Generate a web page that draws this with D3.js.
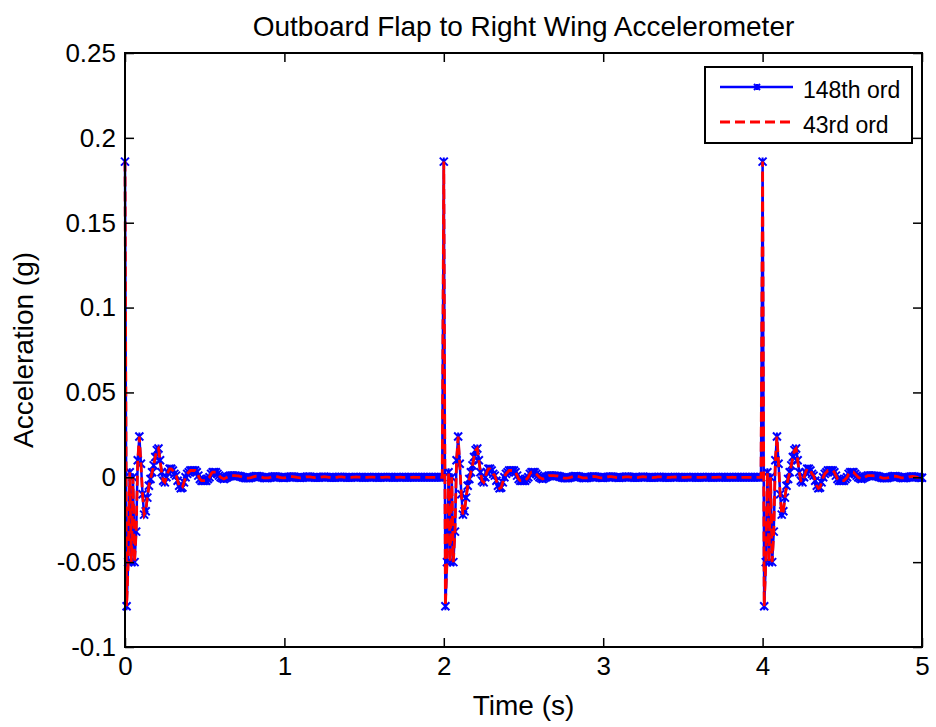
<!DOCTYPE html>
<meta charset="utf-8">
<script src="https://d3js.org/d3.v7.min.js"></script>
<style>
body { margin: 0; background: #fff; }
text { font-family: "Liberation Sans", Arial, sans-serif; fill: #000; }
.axis path { display: none; }
.axis line { stroke: #000; stroke-width: 1.5px; }
.axis text { font-size: 26px; font-family: "Liberation Sans", Arial, sans-serif; fill: #000; }
path.ord148 { fill: none; stroke: #0000ff; stroke-width: 2.5px; }
path.ord43 { fill: none; stroke: #ff0000; stroke-width: 2.8px; stroke-dasharray: 10,5; }
path.mark { fill: none; stroke: #0000ff; stroke-width: 2px; }
</style>
<body>
<script>

// sample spacing of both model outputs (s)
var timeStep = 0.01;
// the same input pulse is applied every 2 s
var pulseStarts = [0, 2, 4];
var endTime = 5;

// response to one pulse, 148th order model, one value per sample (2 s)
var ord148Pulse = [
  0.186, -0.076, -0.050, 0.003, -0.050, 0.000, -0.050, -0.032, 0.010, 0.024,
  0.008, -0.010, -0.022, -0.020, -0.012, -0.005, -0.001, 0.003, 0.007, 0.012,
  0.016, 0.017, 0.010, 0.003, -0.002, -0.003, 0.000, 0.003, 0.005, 0.005,
  0.004, 0.002, 0.001, -0.002, -0.005, -0.0065, -0.006, -0.003, 0.000, 0.002,
  0.003, 0.004, 0.004, 0.004, 0.004, 0.003, 0.001, -0.001, -0.002, -0.002,
  -0.002, -0.002, -0.001, 0.000, 0.002, 0.003, 0.003, 0.003, 0.002, 0.001,
  0.000, -0.0005, -0.001, -0.0005, 0.000, 0.0005, 0.001, 0.001, 0.001, 0.001,
  0.0008, 0.0008, 0.0006, 0.0003, 0.0000, -0.0003, -0.0005, -0.0005, -0.0004, -0.0002,
  0.0001, 0.0004, 0.0006, 0.0006, 0.0005, 0.0003, 0.0000, -0.0003, -0.0004, -0.0004,
  -0.0003, -0.0001, 0.0002, 0.0004, 0.0005, 0.0004, 0.0002, 0.0000, -0.0002, -0.0003,
  -0.0003, -0.0002, 0.0000, 0.0002, 0.0004, 0.0004, 0.0003, 0.0001, -0.0001, -0.0002,
  -0.0003, -0.0002, -0.0001, 0.0001, 0.0003, 0.0003, 0.0003, 0.0001, 0.0000, -0.0002,
  -0.0002, -0.0002, -0.0001, 0.0001, 0.0002, 0.0003, 0.0002, 0.0001, 0.0000, -0.0001,
  -0.0002, -0.0002, -0.0001, 0.0000, 0.0002, 0.0002, 0.0002, 0.0001, 0.0000, -0.0001,
  -0.0002, -0.0001, -0.0001, 0.0001, 0.0001, 0.0002, 0.0001, 0.0001, 0.0000, -0.0001,
  -0.0001, -0.0001, 0.0000, 0.0001, 0.0001, 0.0001, 0.0001, 0.0000, -0.0001, -0.0001,
  -0.0001, 0.0000, 0.0000, 0.0001, 0.0001, 0.0001, 0.0000, 0.0000, -0.0001, -0.0001,
  0.0000, 0.0000, 0.0001, 0.0001, 0.0000, 0.0000, 0.0000, -0.0001, 0.0000, 0.0000,
  0.0000, 0.0001, 0.0000, 0.0000, 0.0000, 0.0000, 0.0000, 0.0000, 0.0000, 0.0000,
  0.0000, 0.0000, 0.0000, 0.0000, 0.0000, 0.0000, 0.0000, 0.0000, 0.0000, 0.0000
];
// 43rd order reduced model: lies on top of the full one at this scale
var ord43Pulse = ord148Pulse;

var seriesNames = ["148th ord", "43rd ord"];

var xTicks = [0, 1, 2, 3, 4, 5];
var yTicks = [0.25, 0.2, 0.15, 0.1, 0.05, 0, -0.05, -0.1];
var yTickLabels = ["0.25", "0.2", "0.15", "0.1", "0.05", "0", "-0.05", "-0.1"];

var width = 936,
    height = 727;
var padLeft = 125, padTop = 53, plotW = 797, plotH = 594;

function buildSeries(pulse) {
  var pts = [];
  pulseStarts.forEach(function(p) {
    pulse.forEach(function(v, i) {
      var t = Math.round((p + i * timeStep) * 1000) / 1000;
      if (t <= endTime) pts.push({t: t, v: v});
    });
  });
  return pts;
}

var data148 = buildSeries(ord148Pulse),
    data43 = buildSeries(ord43Pulse);

var x = d3.scaleLinear().domain([0, 5]).range([0, plotW]);
var y = d3.scaleLinear().domain([-0.1, 0.25]).range([plotH, 0]);

var svg = d3.select("body").append("svg")
    .attr("width", width)
    .attr("height", height);

var g = svg.append("g")
    .attr("transform", "translate(" + padLeft + "," + padTop + ")");

var line = d3.line()
    .x(function(d) { return x(d.t); })
    .y(function(d) { return y(d.v); });

// asterisk-ish marker like matlab
var markX = {
  draw: function(context, size) {
    var r = Math.sqrt(size) / 2;
    context.moveTo(-r, -r); context.lineTo(r, r);
    context.moveTo(-r, r); context.lineTo(r, -r);
    context.moveTo(0, -r); context.lineTo(0, r);
  }
};
var marker = d3.symbol().type(markX).size(64);

// blue series with markers
g.append("path")
    .datum(data148)
    .attr("class", "ord148")
    .attr("d", line);

g.append("g").selectAll("path")
    .data(data148)
    .enter().append("path")
    .attr("class", "mark")
    .attr("transform", function(d) { return "translate(" + x(d.t) + "," + y(d.v) + ")"; })
    .attr("d", marker);

// red dashed on top
g.append("path")
    .datum(data43)
    .attr("class", "ord43")
    .attr("d", line);

// axes, ticks pointing inwards on all four sides
g.append("g")
    .attr("class", "axis")
    .attr("transform", "translate(0," + plotH + ")")
    .call(d3.axisBottom(x).tickValues(xTicks).tickFormat(d3.format("d"))
      .tickSizeInner(-9).tickSizeOuter(0).tickPadding(10));

g.append("g")
    .attr("class", "axis")
    .call(d3.axisTop(x).tickValues(xTicks).tickFormat("")
      .tickSizeInner(-9).tickSizeOuter(0));

g.append("g")
    .attr("class", "axis")
    .call(d3.axisLeft(y).tickValues(yTicks)
      .tickFormat(function(d, i) { return yTickLabels[i]; })
      .tickSizeInner(-9).tickSizeOuter(0).tickPadding(9));

g.append("g")
    .attr("class", "axis")
    .attr("transform", "translate(" + plotW + ",0)")
    .call(d3.axisRight(y).tickValues(yTicks).tickFormat("")
      .tickSizeInner(-9).tickSizeOuter(0));

g.append("rect")
    .attr("width", plotW)
    .attr("height", plotH)
    .style("fill", "none")
    .style("stroke", "#000")
    .style("stroke-width", "2px");

// titles
svg.append("text")
    .attr("x", padLeft + plotW / 2)
    .attr("y", 36)
    .attr("text-anchor", "middle")
    .style("font-size", "28px")
    .text("Outboard Flap to Right Wing Accelerometer");

svg.append("text")
    .attr("x", padLeft + plotW / 2)
    .attr("y", 715)
    .attr("text-anchor", "middle")
    .style("font-size", "28px")
    .text("Time (s)");

svg.append("text")
    .attr("transform", "translate(33," + (padTop + plotH / 2) + ") rotate(-90)")
    .attr("text-anchor", "middle")
    .style("font-size", "28px")
    .text("Acceleration (g)");

// legend
var legend = svg.append("g").attr("transform", "translate(705,67)");
legend.append("rect")
    .attr("width", 207)
    .attr("height", 76)
    .style("fill", "#fff")
    .style("stroke", "#000")
    .style("stroke-width", "2px");

var rows = legend.selectAll("g.row")
    .data(seriesNames)
    .enter().append("g")
    .attr("class", "row")
    .attr("transform", function(d, i) { return "translate(0," + (20 + i * 35) + ")"; });

rows.append("path")
    .attr("class", function(d, i) { return i == 0 ? "ord148" : "ord43"; })
    .attr("d", "M15,0H88");

rows.filter(function(d, i) { return i == 0; })
    .append("path")
    .attr("class", "mark")
    .attr("transform", "translate(52,0)")
    .attr("d", d3.symbol().type(markX).size(36));

rows.append("text")
    .attr("x", 98)
    .attr("y", 11)
    .style("font-size", "23px")
    .text(function(d) { return d; });

</script>
</body>
</html>
